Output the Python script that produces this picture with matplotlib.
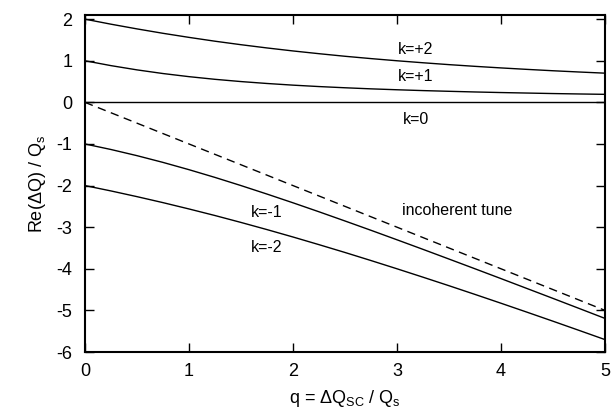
import matplotlib
matplotlib.use("Agg")
import matplotlib.pyplot as plt

# ============================================================
# DATA
# ============================================================

q = [0.00, 0.25, 0.50, 0.75, 1.00, 1.25, 1.50, 1.75, 2.00, 2.25, 2.50,
     2.75, 3.00, 3.25, 3.50, 3.75, 4.00, 4.25, 4.50, 4.75, 5.00]

k_plus2 = [2.000, 1.879, 1.766, 1.660, 1.562, 1.470, 1.386, 1.308, 1.236,
           1.170, 1.108, 1.052, 1.000, 0.952, 0.907, 0.866, 0.828, 0.793,
           0.760, 0.730, 0.702]

k_plus1 = [1.000, 0.883, 0.781, 0.693, 0.618, 0.554, 0.500, 0.454, 0.414,
           0.380, 0.351, 0.325, 0.303, 0.283, 0.266, 0.250, 0.236, 0.224,
           0.212, 0.202, 0.193]

k_zero = [0.0] * len(q)

k_minus1 = [-1.000, -1.133, -1.281, -1.443, -1.618, -1.804, -2.000, -2.204,
            -2.414, -2.630, -2.851, -3.075, -3.303, -3.533, -3.766, -4.000,
            -4.236, -4.474, -4.712, -4.952, -5.193]

k_minus2 = [-2.000, -2.129, -2.266, -2.410, -2.562, -2.720, -2.886, -3.058,
            -3.236, -3.420, -3.608, -3.802, -4.000, -4.202, -4.407, -4.616,
            -4.828, -5.043, -5.260, -5.480, -5.702]

incoherent_q = [0.0, 5.0]
incoherent_tune = [0.0, -5.0]

x_ticks = [0, 1, 2, 3, 4, 5]
y_ticks = [2, 1, 0, -1, -2, -3, -4, -5, -6]

# label text, q position, value position
curve_labels = [
    ("k=+2", 3.18, 1.28),
    ("k=+1", 3.18, 0.61),
    ("k=0", 3.18, -0.40),
    ("k=-1", 1.75, -2.64),
    ("k=-2", 1.75, -3.50),
    ("incoherent tune", 3.58, -2.59),
]

# ============================================================
# STYLE
# ============================================================

plt.rcParams["font.family"] = ["Liberation Sans", "DejaVu Sans"]
plt.rcParams["mathtext.fontset"] = "custom"
plt.rcParams["mathtext.rm"] = "Liberation Sans"
plt.rcParams["mathtext.it"] = "Liberation Sans:italic"
plt.rcParams["font.size"] = 13

# ============================================================
# PLOT
# ============================================================

fig = plt.figure(figsize=(6.15, 4.13), dpi=100)
ax = fig.add_axes([85 / 615, 1 - 352 / 413, 520 / 615, 337 / 413])

for series in [k_plus2, k_plus1, k_zero, k_minus1, k_minus2]:
    ax.plot(q, series, color="black", linewidth=1.0)

ax.plot(
    incoherent_q,
    incoherent_tune,
    color="black",
    linewidth=1.0,
    dashes=(6, 4),
)

for text, xq, yv in curve_labels:
    ax.text(xq, yv, text, ha="center", va="center", fontsize=11.5)

ax.set_xlim(0, 5)
ax.set_ylim(-6, 2.1)

ax.set_xticks(x_ticks)
ax.set_yticks(y_ticks)
ax.set_xticklabels([str(v) for v in x_ticks])
ax.set_yticklabels([str(v) for v in y_ticks])

ax.tick_params(
    direction="in",
    length=6.5,
    width=1.0,
    top=True,
    right=True,
    labelsize=13,
)
ax.tick_params(axis="x", pad=8)
ax.tick_params(axis="y", pad=9)

for spine in ax.spines.values():
    spine.set_linewidth(1.5)

ax.set_xlabel(r"q = $\Delta$Q$_\mathrm{SC}$ / Q$_\mathrm{s}$", fontsize=13, labelpad=6)
ax.set_ylabel(r"Re($\Delta$Q) / Q$_\mathrm{s}$", fontsize=13, labelpad=6)

plt.savefig("out.png", dpi=100)
plt.close()
